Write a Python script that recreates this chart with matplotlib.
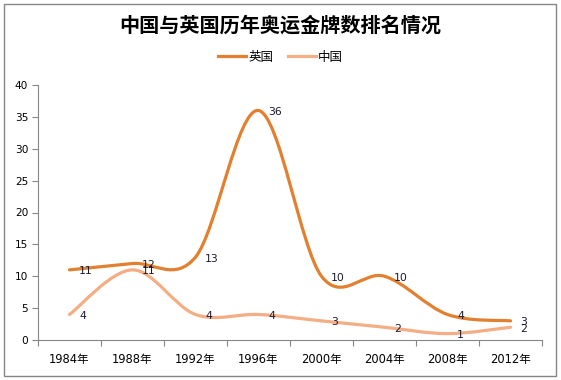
import matplotlib.pyplot as plt
from matplotlib.path import Path
from matplotlib.patches import PathPatch, Rectangle
from matplotlib.lines import Line2D

plt.rcParams['font.family'] = ['DejaVu Sans', 'Noto Sans CJK SC']

years = ['1984年', '1988年', '1992年', '1996年', '2000年', '2004年', '2008年', '2012年']
uk = [11, 12, 13, 36, 10, 10, 4, 3]
china = [4, 11, 4, 4, 3, 2, 1, 2]

uk_color = '#E2802F'
cn_color = '#F5AE84'
axis_color = '#868686'


def smooth_path(values):
    # Excel style smoothed line: cubic bezier, control points from neighbours
    pts = [(i, v) for i, v in enumerate(values)]
    n = len(pts)
    verts = [pts[0]]
    codes = [Path.MOVETO]
    for i in range(n - 1):
        p0 = pts[max(i - 1, 0)]
        p1 = pts[i]
        p2 = pts[i + 1]
        p3 = pts[min(i + 2, n - 1)]
        c1 = (p1[0] + (p2[0] - p0[0]) / 6, p1[1] + (p2[1] - p0[1]) / 6)
        c2 = (p2[0] - (p3[0] - p1[0]) / 6, p2[1] - (p3[1] - p1[1]) / 6)
        verts += [c1, c2, p2]
        codes += [Path.CURVE4] * 3
    return Path(verts, codes)


fig = plt.figure(figsize=(5.61, 3.80), dpi=100)
ax = fig.add_axes([38 / 561, 40 / 380, 504 / 561, 255 / 380])

for vals, col in [(uk, uk_color), (china, cn_color)]:
    ax.add_patch(PathPatch(smooth_path(vals), facecolor='none', edgecolor=col,
                           lw=2.3, capstyle='round', joinstyle='round'))

for vals in [uk, china]:
    for i, v in enumerate(vals):
        ax.annotate(str(v), (i, v), xytext=(7, -1), textcoords='offset points',
                    ha='left', va='center', fontsize=7.8, color='#1a1a2e')

ax.set_xlim(-0.5, len(years) - 0.5)
ax.set_ylim(0, 40)
ax.set_yticks(range(0, 41, 5))
ax.set_xticks([i - 0.5 for i in range(len(years) + 1)])
ax.set_xticklabels([])
ax.set_xticks(range(len(years)), minor=True)
ax.set_xticklabels(years, minor=True)
ax.tick_params(axis='x', which='minor', length=0, pad=9, labelsize=8.3)
ax.tick_params(axis='x', which='major', length=4, color=axis_color)
ax.tick_params(axis='y', length=4, color=axis_color, labelsize=7.6, pad=3)
for s in ['top', 'right']:
    ax.spines[s].set_visible(False)
for s in ['left', 'bottom']:
    ax.spines[s].set_color(axis_color)

fig.text(0.5, 1 - 25 / 380, '中国与英国历年奥运金牌数排名情况', ha='center', va='center',
         fontsize=14.5, fontweight='bold', family=['Noto Sans CJK SC'])

handles = [Line2D([], [], color=uk_color, lw=2.3), Line2D([], [], color=cn_color, lw=2.3)]
fig.legend(handles, ['英国', '中国'], loc='center', bbox_to_anchor=(0.5, 1 - 57 / 380),
           ncol=2, frameon=False, handlelength=2.2, handletextpad=0.2,
           columnspacing=1.2, prop={'family': ['Noto Sans CJK SC'], 'size': 9})

fig.add_artist(Rectangle((4 / 561, 4 / 380), 552 / 561, 372 / 380, transform=fig.transFigure,
                         fill=False, edgecolor=axis_color, lw=1))

fig.savefig('out.png', dpi=100)
